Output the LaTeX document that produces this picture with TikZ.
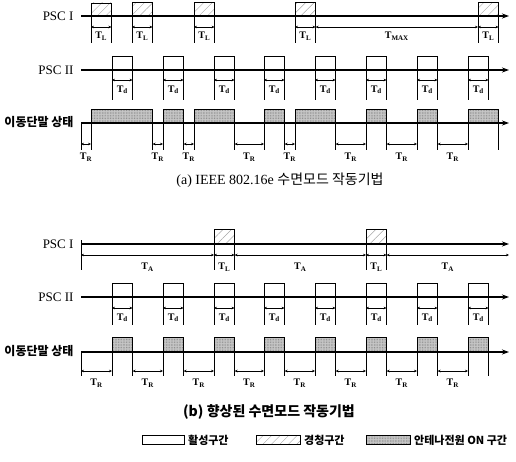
\documentclass[tikz,border=0pt]{standalone}
\usepackage{fontspec}
\setmainfont{Liberation Serif}
\newfontfamily\kr{Noto Sans CJK KR}
\usetikzlibrary{arrows.meta,patterns.meta}
\newcommand{\Tlab}[1]{\textbf{T}\textsubscript{\textbf{#1}}}

\begin{document}
\begin{tikzpicture}[x=1pt,y=-1pt,
    axis/.style={line width=1.6pt,-{Stealth[length=7pt,width=5pt]}},
    tick/.style={line width=0.5pt},
    dim/.style={line width=0.6pt,{Stealth[length=3pt,width=2.6pt]}-{Stealth[length=3pt,width=2.6pt]}},
    lab/.style={font=\fontsize{10}{12}\selectfont},
    sbox/.style={draw,line width=0.6pt,inner sep=0pt,anchor=south west,minimum width=20pt,minimum height=13pt},
    listen/.style={sbox,pattern={Lines[angle=45,distance=6pt,line width=0.4pt]},pattern color=gray!70},
    awake/.style={sbox,fill=white},
    onbox/.style={sbox,preaction={fill=gray!45},pattern={Dots[distance=1.6pt,radius=0.35pt]},pattern color=gray!85!black},
    rowname/.style={anchor=east,font=\fontsize{13}{15}\selectfont},
    krname/.style={anchor=east,font=\fontsize{12}{14}\selectfont\kr\bfseries},
    keytext/.style={anchor=west,font=\fontsize{11}{13}\selectfont\kr\bfseries}]
\useasboundingbox (0,0) rectangle (516,461);

% (a) PSC I
\node[rowname] (n1) at (77,16) {PSC I};
\foreach \x [count=\i] in {91,132,194,295,478}
    \node[listen] (la\i) at (\x,16) {};
\coordinate (a1s) at (81,16);
\coordinate (a1e) at (509,16);
\draw[axis] (a1s) -- (a1e);
\foreach \i in {1,...,5} {
    \draw[tick] (la\i.south west) -- ++(0,27);
    \draw[tick] (la\i.south east) -- ++(0,27);
    \draw[dim] ([yshift=-11pt]la\i.south west) -- ([yshift=-11pt]la\i.south east)
        node[lab,midway,yshift=-9pt] (tla\i) {\Tlab{L}};
}
\draw[dim] ([yshift=-11pt]la4.south east) -- ([yshift=-11pt]la5.south west)
    node[lab,midway,yshift=-9pt] (tmax) {\Tlab{\scriptsize MAX}};

% (a) PSC II
\node[rowname] (n2) at (77,70) {PSC II};
\foreach \x [count=\i] in {112,163,214,264,315,366,417,468}
    \node[awake] (da\i) at (\x,70) {};
\coordinate (a2s) at (81,70);
\coordinate (a2e) at (509,70);
\draw[axis] (a2s) -- (a2e);
\foreach \i in {1,...,8} {
    \draw[tick] (da\i.south west) -- ++(0,30);
    \draw[tick] (da\i.south east) -- ++(0,30);
    \draw[dim] ([yshift=-10pt]da\i.south west) -- ([yshift=-10pt]da\i.south east)
        node[lab,midway,yshift=-10pt] (tda\i) {\Tlab{d}};
}

% (a) mobile state
\node[krname] (n3) at (77,122) {이동단말 상태};
\foreach \x/\w [count=\i] in {91/61,163/20,194/40,264/20,295/40,366/20,417/20,468/30}
    \node[onbox,minimum width=\w pt] (ma\i) at (\x,123) {};
\coordinate (a3s) at (81,123);
\coordinate (a3e) at (509,123);
\draw[axis] (a3s) -- (a3e);
\draw[tick] (a3s) -- ++(0,27);
\foreach \i in {1,...,8} {
    \draw[tick] (ma\i.south west) -- ++(0,27);
    \draw[tick] (ma\i.south east) -- ++(0,27);
}
\draw[dim] ([yshift=-21pt]a3s) -- ([yshift=-21pt]ma1.south west)
    node[lab,midway,yshift=-13pt] (tra1) {\Tlab{R}};
\foreach \i/\j in {1/2,2/3,3/4,4/5,5/6,6/7,7/8}
    \draw[dim] ([yshift=-21pt]ma\i.south east) -- ([yshift=-21pt]ma\j.south west)
        node[lab,midway,yshift=-13pt] (tra\j) {\Tlab{R}};

\node[font=\fontsize{14}{16}\selectfont] (capa) at (280,180) {(a) IEEE 802.16e {\kr 수면모드 작동기법}};

% (b) PSC I
\node[rowname] (n4) at (77,244) {PSC I};
\foreach \x [count=\i] in {214,366}
    \node[listen,minimum height=14pt] (lb\i) at (\x,244) {};
\coordinate (b1s) at (81,244);
\coordinate (b1e) at (509,244);
\draw[axis] (b1s) -- (b1e);
\draw[tick] ([yshift=4pt]b1s) -- ++(0,30);
\coordinate (b1l) at (81,255);
\coordinate (b1r) at (509,255);
\foreach \i in {1,2} {
    \draw[tick] (lb\i.south west) -- ++(0,26);
    \draw[tick] (lb\i.south east) -- ++(0,26);
    \draw[dim] ([yshift=-11pt]lb\i.south west) -- ([yshift=-11pt]lb\i.south east)
        node[lab,midway,yshift=-12pt] (tlb\i) {\Tlab{L}};
}
\draw[dim] (b1l) -- ([yshift=-11pt]lb1.south west)
    node[lab,midway,yshift=-12pt] (tab1) {\Tlab{A}};
\draw[dim] ([yshift=-11pt]lb1.south east) -- ([yshift=-11pt]lb2.south west)
    node[lab,midway,yshift=-12pt] (tab2) {\Tlab{A}};
\draw[dim] ([yshift=-11pt]lb2.south east) -- (b1r)
    node[lab,midway,yshift=-12pt] (tab3) {\Tlab{A}};

% (b) PSC II
\node[rowname] (n5) at (77,297) {PSC II};
\foreach \x [count=\i] in {112,163,214,264,315,366,417,468}
    \node[awake] (db\i) at (\x,297) {};
\coordinate (b2s) at (81,297);
\coordinate (b2e) at (509,297);
\draw[axis] (b2s) -- (b2e);
\foreach \i in {1,...,8} {
    \draw[tick] (db\i.south west) -- ++(0,28);
    \draw[tick] (db\i.south east) -- ++(0,28);
    \draw[dim] ([yshift=-11pt]db\i.south west) -- ([yshift=-11pt]db\i.south east)
        node[lab,midway,yshift=-10pt] (tdb\i) {\Tlab{d}};
}

% (b) mobile state
\node[krname] (n6) at (77,351) {이동단말 상태};
\foreach \x [count=\i] in {112,163,214,264,315,366,417,468}
    \node[onbox,minimum height=14pt] (mb\i) at (\x,352) {};
\coordinate (b3s) at (81,352);
\coordinate (b3e) at (509,352);
\draw[axis] (b3s) -- (b3e);
\draw[tick] (b3s) -- ++(0,24);
\foreach \i in {1,...,8} {
    \draw[tick] (mb\i.south west) -- ++(0,24);
    \draw[tick] (mb\i.south east) -- ++(0,24);
}
\draw[dim] ([yshift=-19pt]b3s) -- ([yshift=-19pt]mb1.south west)
    node[lab,midway,yshift=-12pt] (trb1) {\Tlab{R}};
\foreach \i/\j in {1/2,2/3,3/4,4/5,5/6,6/7,7/8}
    \draw[dim] ([yshift=-19pt]mb\i.south east) -- ([yshift=-19pt]mb\j.south west)
        node[lab,midway,yshift=-12pt] (trb\j) {\Tlab{R}};

\node[font=\fontsize{14}{16}\selectfont\kr\bfseries] (capb) at (269,412) {(b) 향상된 수면모드 작동기법};

% legend
\node[awake,minimum width=42pt,minimum height=9pt] (k1) at (142,445) {};
\node[keytext] (k1t) at (k1.east) {활성구간};
\node[listen,minimum width=44pt,minimum height=9pt] (k2) at (256,445) {};
\node[keytext] (k2t) at (k2.east) {경청구간};
\node[onbox,minimum width=44pt,minimum height=9pt] (k3) at (366,445) {};
\node[keytext] (k3t) at (k3.east) {안테나전원 ON 구간};
\end{tikzpicture}
\end{document}
